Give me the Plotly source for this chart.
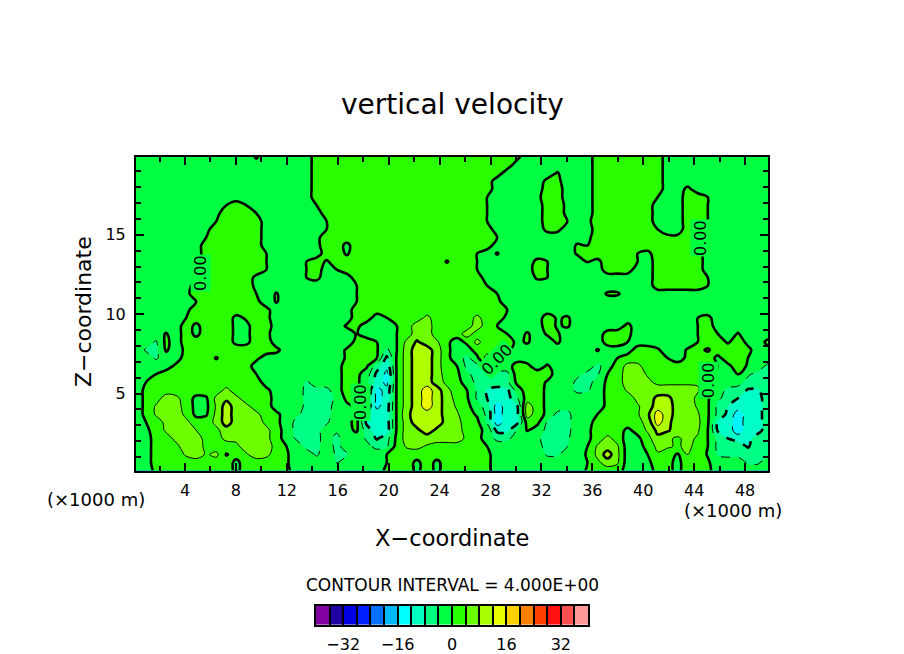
import numpy as np
import plotly.graph_objects as go

TITLE = "vertical velocity"
X_LABEL = "X\u2212coordinate"
Z_LABEL = "Z\u2212coordinate"
INTERVAL_TEXT = "CONTOUR INTERVAL = 4.000E+00"
UNIT_TEXT = "(\u00d71000 m)"
X_RANGE = [0.15, 49.8]
Z_RANGE = [0.15, 19.9]
BAND_COLORS = ["#8000a0", "#2000a0", "#0000e0", "#0020ff", "#0070ff", "#00b8ff", "#00ffff", "#00ffc0", "#00ff80", "#00ff40",
               "#28ff00", "#68ff00", "#a8ff00", "#e8ff00", "#ffd000", "#ff8000", "#ff4000", "#ff1010", "#ff5050", "#ff9898"]
BAND_EDGES = [-40, -36, -32, -28, -24, -20, -16, -12, -8, -4, 0, 4, 8, 12, 16, 20, 24, 28, 32, 36, 40]
BAR_LABELS = {-32: "\u221232", -16: "\u221216", 0: "0", 16: "16", 32: "32"}
LINE_LABELS = [(5.26, 12.6, -90), (44.45, 14.8, -90), (45.1, 5.85, -90), (17.75, 4.47, -90), (28.5, 7.16, -45)]

# w values on a regular 64 x 40 grid, listed from the top row to the bottom row
W_TOP_DOWN = [
[-2,-2,-2,-2,-2,-2,-2,-2, -2,-2,-2,-2,.5,-2,-2,-2, -2,-2,2,2,2,2,2,2, 2,2,2,2,2,2,2,2, 2,2,2,2,2,2,1,-2, -2,-2,-2,-2,-2,-2,2,2, 2,2,2,2,2,-2,-2,-2, -2,-2,-2,-2,-2,-2,-2,-2],
[-2,-2,-2,-2,-2,-2,-2,-2, -2,-2,-2,-2,-2,-2,-2,-2, -2,-2,2,2,2,2,2,2, 2,2,2,2,2,2,2,2, 2,2,2,2,2,2,-2,-2, -2,-2,-2,-2,-2,-2,2,2, 2,2,2,2,2,-2,-2,-2, -2,-2,-2,-2,-2,-2,-2,-2],
[-2,-2,-2,-2,-2,-2,-2,-2, -2,-2,-2,-2,-2,-2,-2,-2, -2,-2,2,2,2,2,2,2, 2,2,2,2,2,2,2,2, 2,2,2,2,2,-2,-2,-2, -2,-2,.3,-2,-2,-2,2,2, 2,2,2,2,2,-2,-2,-2, -2,-2,-2,-2,-2,-2,-2,-2],
[-2,-2,-2,-2,-2,-2,-2,-2, -2,-2,-2,-2,-2,-2,-2,-2, -2,-2,2,2,2,2,2,2, 2,2,2,2,2,2,2,2, 2,2,2,2,-2,-2,-2,-2, -2,1,1,-2,-2,-2,2,2, 2,2,2,2,2,-2,-2,-2, -2,-2,-2,-2,-2,-2,-2,-2],
[-2,-2,-2,-2,-2,-2,-2,-2, -2,-2,-2,-2,-2,-2,-2,-2, -2,-2,2,2,2,2,2,2, 2,2,2,2,2,2,2,2, 2,2,2,2,-2,-2,-2,-2, -2,2,2,-2,-2,-2,2,2, 2,2,2,2,2,-2,-2,1, -2,-2,-2,-2,-2,-2,-2,-2],
[-2,-2,-2,-2,-2,-2,-2,-2, -2,-2,-2,-2,-2,-2,-2,-2, -2,-2,2,2,2,2,2,2, 2,2,2,2,2,2,2,2, 2,2,2,0,-2,-2,-2,-2, -1,2,2,-2,-2,-2,2,2, 2,2,2,2,0,-2,-2,2, 2,0,-2,-2,-2,-2,-2,-2],
[-2,-2,-2,-2,-2,-2,-2,-2, -2,0,2,0,-2,-2,-2,-2, -2,-2,0,2,2,2,2,2, 2,2,2,2,2,2,2,2, 2,2,2,0,-2,-2,-2,-2, -2,2,2,-1,-2,-2,2,2, 2,2,2,2,-2,-2,-2,2, 2,0,-2,-2,-2,-2,-2,-2],
[-2,-2,-2,-2,-2,-2,-2,-2, -1,2,2,2,0,-2,-2,-2, -2,-2,-2,2,2,2,2,2, 2,2,2,2,2,2,2,2, 2,2,2,0,-2,-2,-2,-2, -2,2,2,-1,-2,-2,2,2, 2,2,2,2,-2,-2,-2,2, 2,0,-2,-2,-2,-2,-2,-2],
[-2,-2,-2,-2,-2,-2,-2,-2, 0,2,2,2,2,-2,-2,-2, -2,-2,-2,0,2,2,2,2, 2,2,2,2,2,2,2,2, 2,2,2,0,-2,-2,-2,-2, -2,2,2,0,-2,-1,2,2, 2,2,2,2,-2,-2,-2,2, 2,0,-2,-2,-2,-2,-2,-2],
[-2,-2,-2,-2,-2,-2,-2,-1, 2,2,2,2,2,-2,-2,-2, -2,-2,-2,0,2,2,2,2, 2,2,2,2,2,2,2,2, 2,2,2,2,-2,-2,-2,-2, -2,1,1,-2,-2,-2,2,2, 2,2,2,2,0,-2,-2,2, 2,0,-2,-2,-2,-2,-2,-2],
[-2,-2,-2,-2,-2,-2,-2,0, 2,2,2,2,2,-2,-2,-2, -2,-2,-1,2,2,2,2,2, 2,2,2,2,2,2,2,2, 2,2,2,2,0,-2,-2,-2, -2,-2,-2,-2,-2,-1,2,2, 2,2,2,2,2,1,1,2, 2,0,-2,-2,-2,-2,-2,-2],
[-2,-2,-2,-2,-2,-2,-2,2, 2,2,2,2,2,-2,-2,-2, -2,-2,-1,2,2,-1,2,2, 2,2,2,2,2,2,2,2, 2,2,2,2,-2,-2,-2,-2, -2,-2,-2,-2,.5,0,2,2, 2,2,2,2,2,2,2,2, 2,0,-2,-2,-2,-2,-2,-2],
[-2,-2,-2,-2,-2,-2,-2,2, 2,2,2,2,2,0,-2,-2, -2,-2,-2,2,2,-.5,2,2, 2,2,2,2,2,2,2,2, 2,2,0,-2,.3,-2,-2,-2, -2,-2,-2,-2,.5,1,2,2, 2,2,0,-1,2,2,2,2, 2,-2,-2,-2,-2,-2,-2,-2],
[-2,-2,-2,-2,-2,-2,-1,2, 2,2,2,2,2,0,-2,-2, -2,0,2,-.5,2,2,2,2, 2,2,2,2,2,2,2,-.3, 2,2,0,-2,-2,-2,-2,-2, 1,0,-2,-2,-2,.3,-1,2, 2,2,0,-2,2,2,2,2, 2,-2,-2,-2,-2,-2,-2,-2],
[-2,-2,-2,-2,-2,-2,0,2, 2,2,2,2,2,0,-2,-2, -2,0,2,-2,0,2,2,2, 2,2,2,2,2,2,2,2, 2,2,0,-2,-2,-2,-2,-2, 2,0,-2,-2,-2,-2,-2,2, 2,2,-2,-2,2,2,2,2, 2,-2,-2,-2,-2,-2,-2,-2],
[-2,-2,-2,-2,-2,-2,0,2, 2,2,2,2,-1,-2,-2,-2, -2,0,1,-2,-2,-2,2,2, 2,2,2,2,2,2,2,2, 2,2,2,-2,-2,-2,-2,-2, .5,0,-2,-2,-2,-2,-2,-2, -2,-2,-2,-2,2,2,2,2, 2,0,-2,-2,-2,-2,-2,-2],
[-2,-2,-2,-2,-2,-2,2,2, 2,2,2,2,-1,-2,-2,-2, -2,-2,-2,-2,-2,-2,0,2, 2,2,2,2,2,2,2,2, 2,2,2,0,-2,-2,-2,-2, -2,-2,-2,-2,-2,-2,-2,-2, -2,-2,-2,-2,2,2,2,2, 2,0,-2,-2,-2,-2,-2,-2],
[-2,-2,-2,-2,-2,-1,2,2, 2,2,2,2,0,-2,.3,-2, -2,-2,-2,-2,-2,-2,0,2, 2,2,2,2,2,2,2,2, 2,2,2,2,0,-2,-2,-2, -2,-2,-2,-2,-2,-2,-2,.5, .5,-2,-2,-2,-2,-2,-2,-2, -2,-2,-2,-2,-2,-2,-2,-2],
[-2,-2,-2,-2,-2,-2,0,2, 2,2,2,2,1,-2,.3,-2, -2,-2,-2,-2,-2,-2,0,2, 2,2,2,2,2,2,2,2, 2,2,2,2,1,-2,-2,-2, -2,-2,-2,-2,-2,-2,-2,-2, -2,-2,-2,-2,-2,-2,-2,-2, -2,-2,-2,-2,-2,-2,-2,-2],
[-2,-2,-2,-2,-2,-1,2,2, 2,2,2,2,2,1,-2,-2, -2,-2,-2,-2,-2,-2,2,2, 2,2,2,2,2,2,2,2, 2,2,2,2,2,0,-2,-2, -2,-2,-2,-2,-2,-2,-2,-2, -2,-2,-2,-2,-2,-2,-2,-2, -2,-2,-2,-2,-2,-2,-2,-2],
[-2,-2,-2,-2,-2,0,2,2, 2,2,-1,.5,2,1,-2,-2, -2,-2,-2,-2,-2,-2,2,2, -2,0,2,2,2,5,2,2, 2,2,5,2,2,-1,-2,-2, -2,2,-.5,.5,-2,-2,-2,-2, -2,-2,-2,-2,-2,-2,-2,-2, 0,1,-2,-2,-2,-2,-2,-2],
[-2,-2,-2,-2,-2,2,-1,2, 2,2,-1,-1,2,2,-2,-2, -2,-2,-2,-2,-2,.5,1,-2, -2,-2,0,2,6,6,2,2, 2,2,6,2,0,-2,-2,-2, -2,2,-.5,.5,-2,-2,-2,-2, -2,1,-2,-2,-2,-2,-2,-2, 0,2,-2,-2,-2,-2,-2,-2],
[-2,-2,-2,.3,-2,2,-1,2, 2,2,-1,-1,2,1,-2,-2, -2,-2,-2,-2,-2,-2,.3,-2, -2,-2,0,2,6,6,2,2, 2,6,2,2,2,0,-2,.5, -2,.5,.5,-2,-2,-2,-2,1.5, 2,1,-2,-2,-2,-2,-2,-2, 0,2,0,-2,.3,-2,-2,-2],
[-2,-2,-4.5,1,-2,2,2,2, 2,2,-1,-1,2,2,-2,-2, -2,-2,-2,-2,-2,-2,1,2, 0,-2,0,5,8.5,6,4.5,1, -2,1,5,2,2,2,-1,.5, -2,-2,.6,-2,-2,-2,-2,1.5, 2,0,-2,-2,-2,-2,-2,-2, 0,2,2,-.5,2,-1,-2,1],
[-2,-4.5,-5,.5,-2,1,2,2, 2,2,2,2,2,2,1,-2, -2,-2,-2,-2,-2,.5,1,2, .5,-5,0,6,10,10,6,1, -2,-2,2,2,2,1,-2,-2, -2,-2,-2,-2,-2,-2,.3,-2, -2,-2,2,2,.5,-2,-2,.5, 1,-.5,2,2,2,1,-2,-1],
[-2,-2,-4.5,-2,-2,2,2,2, -.3,2,2,2,1,-2,-2,-2, -2,-2,-2,-2,-2,.5,2,2, 0,-9,.5,6,10,10,6,1, -2,-5,-1,6,0,-2,-2,-2, -2,-2,-2,-2,-2,-2,-2,-2, 0,2,2,2,2,0,-2,1, 2,2,-1,2,2,0,-2,-2],
[-2,-2,-2,-2,1,2,2,2, 2,2,2,2,-2,-2,-2,-2, -2,-2,-2,-2,-2,2,1,.5, -6,-11,.5,6,10,10,6,1, 0,-5,-5,-1,-2,-2,2,1, -2,.5,-2,-2,-2,-2,-5,-2, 2,5,5,2,2,2,2,2, 2,2,0,-1,2,-.5,-2,-5],
[-2,-2,0,2,2,2,2,2, 2,2,2,2,0,-2,-2,-2, -2,-2,-2,-2,-2,2,1,-2, -9,-13,.5,6,10,10,6,2, 1,-3.5,-5,-5,-5,-5,2,2, 2,2,-2,-2,-3,-5,-4.5,0, 2,6,6,3.5,2,2,2,2, 2,2,-1,-2,.3,-3.5,-5,-5],
[-2,0,2,2,2,2,2,2, 2,2,2,2,2,-2,-2,-2, -2,-4.5,-2,-2,-2,2,1,-3, -10,-13,.5,6,10,10,6,3, 1.5,-2,-5,-5,-5,-5,1,2, 2,-.5,-2,-2,-5,-5,-3,1, 2,6,6,5,3,3,3,3, 3.5,1,-2,-2,-3,-5,-5,-5],
[-2,1,2,2,2,2,2,2, 2,5,2,2,2,1,-2,-2, -2,-5,-5,-5,-2,2,1,-4.5, -13,-11,.5,6,10,14,10,5, 2,0,-4.5,-8.5,-10,-9,-2,2, 2,-1,-2,-2,-5,-4.5,-2,1, 2,4.5,6,6,6,6,6,6, 4.5,1,-2,-5,-5,-8.5,-8.5,-5],
[-2,1,2,6,5,2,-1,-.5, 5,7,5,2,2,2,-2,-2, -2,-5,-5,-5,-3.5,1,1,-5, -13,-11,.5,6,10,14,10,6, 2.5,.5,-4.5,-8,-10,-10,-4.5,2, 2,-1,-2,-2,-2,-2,-2,1, 2,2,5,6,9,9,6,6, 3,.5,-3.5,-5,-8,-10,-10,-5],
[-2,1,4.5,6,6,2,-1,-1, 4.5,10,6,5,2,2,-2,-2, -2,-5,-5,-5,-3,-1,1,-5, -13,-10,.5,6,10,14,10,6, 3.5,1,-2,-6,-14,-10,-8.5,6, 2,-1,-2,-3,-2,-2,-2,1, 2,2,3.5,6,10,10,6,6, 3.5,.5,-5,-8,-10,-10,-10,-5],
[-2,1,4.5,6,6,3,-1,-.5, 5,10,6,6,5,2,1,-2, -3.5,-5,-5,-5,-2.5,-2,1,-8, -10,-10,.5,7,10,10,10,6, 4.5,1.5,-.5,-5,-14,-10,-9,6, 2,-1,-5,-5,-2,-2,0,2, 2,2,3.5,7,14,10,6,6, 4.5,.5,-5,-9,-14,-10,-10,-5],
[-2,0,2,5,6,5,2,2, 5,10,6,6,6,3,1,-2, -5,-5,-5,-4.5,-2,-1,1,-9, -10,-10,.5,6,10,10,10,6.5, 5,2.5,1,-4.5,-14,-10,-9,1.5, 1,-4.5,-5,-5,-2,-2,2,2, 2,2,3,5,14,9,6,6, 5,.5,-8.5,-10,-14,-10,-10,-5],
[-2,-1,2,4.5,6,6,4,2, 3,6,6,6,6,5,2,-2, -5,-5,-5,-2.5,-3.5,-1,.5,-6, -10,-10,.5,6,7,10,7,6, 5,3,1,-1,-9,-9,-3.5,.3, -2,-5,-5,-5,-2,-1,2,2, 2,-1,1.5,4.5,9,8.5,6,6, 4.5,0,-8.5,-10,-14,-10,-10,-5],
[-2,-2,2,2.5,5,6,6,2.5, 2.5,5,5,6,6,5,2,-2, -4.5,-5,-5,-2.5,-5,-2,-2,-4.5, -8.5,-5.5,1,6,6,6,6,6, 6,3,1.5,-2,-5,-5,-2,-2, -3.5,-5,-5,-4.5,-2,-1,2,5, 2.5,-2,-1,2.5,7,4.5,3.5,5, 3.5,0,-5,-8,-10,-10,-5,-5],
[-2,-2,2,2,3,6,6,3, 2,2,3,6,6,6,2.5,0, -2,-5,-5,-2,-5,-2.5,-2,-3, -5,-4.5,1.5,4.5,5,3.5,2,2, 2,2,2,0,-2,-2,-2,-2, -3,-5,-5,-4,-2,0,4.5,6, 4.5,-2,-2,1.5,5,4.5,3.5,5, 2.5,0,-5,-5,-5,-8.5,-5,-5],
[-2,-2,2,2,2,4.5,6,3.5, 5,-.3,1.5,3.5,6,5,2,.5, -2,-2,-4.5,-2,-4.5,-4.5,-2,-2, -2,0,2,2,2,2,2,2, 2,2,2,1,-2,-2,-2,-2, -2,-4.5,-4.5,-2,-2,.5,5,10, 5,-2,-2,0,3.5,2,-.5,4, 2,-.3,-4.5,-5,-5,-5,-5,-5],
[-2,-2,2,2,2,2,2,2, 2,2,-1,2,2,2,2,.5, -2,-2,-2,-2,-4.2,-2,-2,-2, -2,0,2,2,-1,2,-1,2, 2,2,2,1,-2,-2,-2,-2, -2,-2,-2,-2,-2,0,3,6, 4.5,-2,-2,-1,2,1,-1,2, 2,.5,-2,-2,-2,-4.5,-4.5,-2],
[-2,-2,1,2,2,2,2,2, 2,2,-1,2,2,2,2,1, -2,-2,-2,-2,-2,-2,-2,-2, -2,1,2,2,-1,2,-1,2, 2,2,2,1,-2,-2,-2,-2, -2,-2,-2,-2,-2,.5,2,2, 2,-2,-2,-2,1.5,1,-1,2, 2,1,-2,-2,-2,-2,-2,-2],
]

W = W_TOP_DOWN[::-1]
xs = np.linspace(X_RANGE[0], X_RANGE[1], len(W[0]))
zs = np.linspace(Z_RANGE[0], Z_RANGE[1], len(W))

n_levels = len(BAND_EDGES)
scale = [[0, BAND_COLORS[0]]]
for k, c in enumerate(BAND_COLORS):
    scale.append([(k + 1) / n_levels, c])
scale.append([1, BAND_COLORS[-1]])

FONT = "DejaVu Sans"
W_PX, H_PX = 904, 654
fig = go.Figure()
fig.add_trace(go.Contour(x=xs, y=zs, z=W, colorscale=scale, showscale=False, zauto=False, zmin=-40, zmax=40,
                         contours=dict(coloring="fill", start=-40, end=40, size=4, showlines=False),
                         line=dict(width=0), hoverinfo="skip"))
for start, end, size, width, dash in [(0, 8, 8, 2.6, "solid"), (4, 12, 8, 1, "solid"),
                                      (-12, -4, 8, 1, "dash"), (-8, -8, 1, 2.6, "dash")]:
    fig.add_trace(go.Contour(x=xs, y=zs, z=W, showscale=False, hoverinfo="skip",
                             contours=dict(coloring="none", start=start, end=end, size=size),
                             line=dict(color="black", width=width, dash=dash)))

centres = [(a + b) / 2 for a, b in zip(BAND_EDGES[:-1], BAND_EDGES[1:])]
bar_scale = [[0, BAND_COLORS[0]]] + [[(c + 40) / 80, col] for c, col in zip(centres, BAND_COLORS)] + [[1, BAND_COLORS[-1]]]
fig.add_trace(go.Heatmap(x=centres, y=[0], z=[centres], xaxis="x2", yaxis="y2", zmin=-40, zmax=40, showscale=False,
                         hoverinfo="skip", colorscale=bar_scale))

annots = [
    dict(text=TITLE, x=452 / W_PX, y=1 - 105 / H_PX, font=dict(size=28)),
    dict(text=X_LABEL, x=452 / W_PX, y=1 - 541 / H_PX, font=dict(size=22.5)),
    dict(text=Z_LABEL, x=83 / W_PX, y=1 - 314 / H_PX, font=dict(size=22), textangle=-90),
    dict(text=UNIT_TEXT, x=96 / W_PX, y=1 - 503 / H_PX, font=dict(size=18)),
    dict(text=UNIT_TEXT, x=733 / W_PX, y=1 - 514 / H_PX, font=dict(size=18)),
    dict(text=INTERVAL_TEXT, x=452 / W_PX, y=1 - 589 / H_PX, font=dict(size=17)),
]
for a in annots:
    a.update(xref="paper", yref="paper", showarrow=False, xanchor="center", yanchor="middle")
    a["font"].update(family=FONT, color="black")
for x, z, ang in LINE_LABELS:
    annots.append(dict(text="0.00", x=x, y=z, xref="x", yref="y", showarrow=False, textangle=ang, bgcolor="#00ff40",
                       borderpad=0, font=dict(family=FONT, size=16, color="black")))

axis_common = dict(showgrid=False, zeroline=False, showline=True, linecolor="black", linewidth=2, mirror="allticks",
                   ticks="inside", tickcolor="black", tickwidth=2, ticklen=8,
                   tickfont=dict(family=FONT, size=16, color="black"))
fig.update_layout(
    width=W_PX, height=H_PX, autosize=False, margin=dict(l=0, r=0, t=0, b=0, pad=0),
    paper_bgcolor="white", plot_bgcolor="white", showlegend=False, annotations=annots,
    xaxis=dict(domain=[136 / W_PX, 768 / W_PX], range=X_RANGE, anchor="y", tick0=0, dtick=4,
               minor=dict(dtick=2, ticks="inside", ticklen=5, tickcolor="black", tickwidth=1.5),
               ticklabelstandoff=4, **axis_common),
    yaxis=dict(domain=[1 - 473.5 / H_PX, 1 - 158 / H_PX], range=Z_RANGE, anchor="x", tick0=0, dtick=5,
               minor=dict(dtick=1, ticks="inside", ticklen=5, tickcolor="black", tickwidth=1.5),
               ticklabelstandoff=5, **axis_common),
    xaxis2=dict(domain=[316 / W_PX, 588 / W_PX], range=[-40, 40], anchor="y2", tickmode="array", tickvals=BAND_EDGES,
                ticktext=[BAR_LABELS.get(v, "") for v in BAND_EDGES], showgrid=False, zeroline=False, showline=True,
                linecolor="black", linewidth=2, mirror=True, ticks="inside", ticklen=19, tickwidth=2, tickcolor="black",
                ticklabelstandoff=4, tickfont=dict(family=FONT, size=16, color="black"), tickangle=0),
    yaxis2=dict(domain=[1 - 628.5 / H_PX, 1 - 609.5 / H_PX], range=[-0.5, 0.5], anchor="x2", showticklabels=False,
                ticks="", showgrid=False, zeroline=False, showline=True, linecolor="black", linewidth=2, mirror=True),
)
fig.write_html("out.html", config=dict(displayModeBar=False), post_script="document.body.style.margin='0';")
